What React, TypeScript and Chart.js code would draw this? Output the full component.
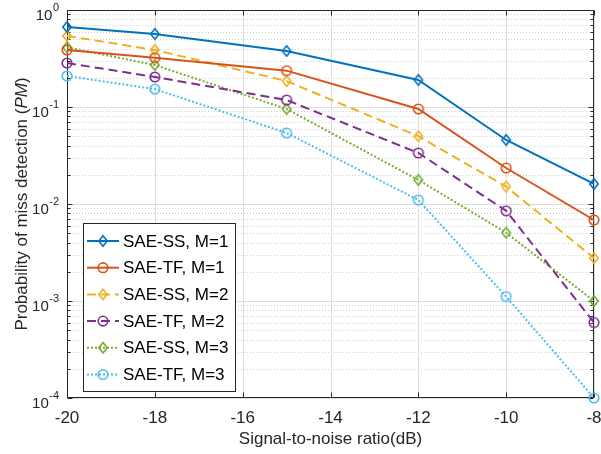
import React, { useEffect, useRef } from "react";
import { Chart, registerables } from "chart.js";

Chart.register(...registerables);

// ---- data ----
const snr = [-20, -18, -15, -12, -10, -8];
const ssM1 = [0.668, 0.566, 0.378, 0.19, 0.0457, 0.0161];
const tfM1 = [0.387, 0.322, 0.237, 0.0955, 0.0235, 0.00684];
const ssM2 = [0.54, 0.387, 0.185, 0.05, 0.0151, 0.00277];
const tfM2 = [0.284, 0.204, 0.118, 0.0336, 0.0085, 0.0006];
const ssM3 = [0.412, 0.271, 0.0955, 0.0177, 0.00506, 0.001];
const tfM3 = [0.209, 0.153, 0.054, 0.011, 0.00111, 0.0001];
const seriesNames = [
  "SAE-SS, M=1",
  "SAE-TF, M=1",
  "SAE-SS, M=2",
  "SAE-TF, M=2",
  "SAE-SS, M=3",
  "SAE-TF, M=3",
];
const xTicks = [-20, -18, -16, -14, -12, -10, -8];
const yDecades = [-4, -3, -2, -1, 0];
const xTitle = "Signal-to-noise ratio(dB)";
const yTitlePre = "Probability of miss detection (";
const yTitleIt = "PM";
const yTitlePost = ")";

// ---- styles ----
const colors = ["#0072BD", "#D95319", "#EDB120", "#7E2F8E", "#77AC30", "#4DBEEE"];
const markers = ["diamond", "circle", "diamond", "circle", "diamond", "circle"];
const dashes: number[][] = [[], [], [9, 5], [9, 5], [2, 2], [2, 2]];
const FONT = '"Liberation Sans", Arial, Helvetica, sans-serif';
const AXIS = "#262626";
const FS = 17;

function traceMarker(ctx: CanvasRenderingContext2D, style: string, x: number, y: number) {
  ctx.beginPath();
  if (style === "circle") {
    ctx.arc(x, y, 4.8, 0, Math.PI * 2);
  } else {
    ctx.moveTo(x, y - 5.2);
    ctx.lineTo(x + 4.2, y);
    ctx.lineTo(x, y + 5.2);
    ctx.lineTo(x - 4.2, y);
    ctx.closePath();
  }
}

function drawMarker(ctx: CanvasRenderingContext2D, style: string, x: number, y: number, color: string) {
  ctx.save();
  ctx.setLineDash([]);
  ctx.strokeStyle = color;
  ctx.lineWidth = 1.6;
  traceMarker(ctx, style, x, y);
  ctx.stroke();
  ctx.restore();
}

function markerImage(style: string, color: string): HTMLCanvasElement {
  const c = document.createElement("canvas");
  c.width = 14;
  c.height = 14;
  const g = c.getContext("2d")!;
  drawMarker(g, style, 7, 7, color);
  return c;
}

const matlabPlugin = {
  id: "matlabStyle",
  beforeDatasetsDraw(chart: any) {
    const { ctx, chartArea: a, scales } = chart;
    const xs = scales.x;
    const ys = scales.y;
    ctx.save();
    ctx.lineWidth = 1;
    // minor grid
    ctx.strokeStyle = "#cfcfcf";
    ctx.setLineDash([1, 2]);
    for (let e = -4; e < 0; e++) {
      for (let k = 2; k <= 9; k++) {
        const py = Math.round(ys.getPixelForValue(k * Math.pow(10, e))) + 0.5;
        ctx.beginPath();
        ctx.moveTo(a.left, py);
        ctx.lineTo(a.right, py);
        ctx.stroke();
      }
    }
    ctx.setLineDash([]);
    // major grid
    ctx.strokeStyle = "#dedede";
    xTicks.forEach((t) => {
      const px = Math.round(xs.getPixelForValue(t)) + 0.5;
      ctx.beginPath();
      ctx.moveTo(px, a.top);
      ctx.lineTo(px, a.bottom);
      ctx.stroke();
    });
    yDecades.forEach((e) => {
      const py = Math.round(ys.getPixelForValue(Math.pow(10, e))) + 0.5;
      ctx.beginPath();
      ctx.moveTo(a.left, py);
      ctx.lineTo(a.right, py);
      ctx.stroke();
    });
    // box
    ctx.strokeStyle = AXIS;
    const L = Math.round(a.left) + 0.5;
    const R = Math.round(a.right) - 0.5;
    const T = Math.round(a.top) + 0.5;
    const B = Math.round(a.bottom) - 0.5;
    ctx.beginPath();
    ctx.moveTo(L, T);
    ctx.lineTo(R, T);
    ctx.lineTo(R, B);
    ctx.lineTo(L, B);
    ctx.closePath();
    ctx.stroke();
    // ticks
    ctx.beginPath();
    xTicks.forEach((t) => {
      const px = Math.round(xs.getPixelForValue(t)) + 0.5;
      ctx.moveTo(px, B);
      ctx.lineTo(px, B - 5);
      ctx.moveTo(px, T);
      ctx.lineTo(px, T + 5);
    });
    yDecades.forEach((e) => {
      const py = Math.round(ys.getPixelForValue(Math.pow(10, e))) + 0.5;
      ctx.moveTo(L, py);
      ctx.lineTo(L + 5, py);
      ctx.moveTo(R, py);
      ctx.lineTo(R - 5, py);
    });
    for (let e = -4; e < 0; e++) {
      for (let k = 2; k <= 9; k++) {
        const py = Math.round(ys.getPixelForValue(k * Math.pow(10, e))) + 0.5;
        ctx.moveTo(L, py);
        ctx.lineTo(L + 3, py);
        ctx.moveTo(R, py);
        ctx.lineTo(R - 3, py);
      }
    }
    ctx.stroke();
    ctx.restore();
  },
  afterDraw(chart: any) {
    const { ctx, chartArea: a, scales } = chart;
    const xs = scales.x;
    const ys = scales.y;
    ctx.save();
    ctx.fillStyle = AXIS;
    // x tick labels
    ctx.font = `${FS}px ${FONT}`;
    ctx.textAlign = "center";
    ctx.textBaseline = "alphabetic";
    xTicks.forEach((t) => {
      const px = xs.getPixelForValue(t);
      ctx.fillText(String(t), px, a.bottom + 25);
    });
    // y tick labels 10^e
    yDecades.forEach((e) => {
      const py = ys.getPixelForValue(Math.pow(10, e));
      const sup = String(e);
      ctx.font = `11px ${FONT}`;
      const sw = ctx.measureText(sup).width;
      ctx.font = `15px ${FONT}`;
      const mw = ctx.measureText("10").width;
      const right = a.left - 8;
      ctx.textAlign = "left";
      ctx.fillText("10", right - sw - mw - 0.5, py + 10);
      ctx.font = `11px ${FONT}`;
      ctx.fillText(sup, right - sw, py + 1);
    });
    // x title
    ctx.font = `${FS}px ${FONT}`;
    ctx.textAlign = "center";
    ctx.fillText(xTitle, (a.left + a.right) / 2, a.bottom + 46);
    // y title (rotated)
    ctx.save();
    ctx.translate(27, (a.top + a.bottom) / 2);
    ctx.rotate(-Math.PI / 2);
    ctx.textAlign = "left";
    ctx.font = `${FS}px ${FONT}`;
    const w1 = ctx.measureText(yTitlePre).width;
    const w3 = ctx.measureText(yTitlePost).width;
    ctx.font = `italic ${FS}px ${FONT}`;
    const w2 = ctx.measureText(yTitleIt).width;
    let cx = -(w1 + w2 + w3) / 2;
    ctx.font = `${FS}px ${FONT}`;
    ctx.fillText(yTitlePre, cx, 0);
    cx += w1;
    ctx.font = `italic ${FS}px ${FONT}`;
    ctx.fillText(yTitleIt, cx, 0);
    cx += w2;
    ctx.font = `${FS}px ${FONT}`;
    ctx.fillText(yTitlePost, cx, 0);
    ctx.restore();

    // legend
    const lx = 83.5, ly = 223.5, lw = 152, lh = 168;
    ctx.fillStyle = "#ffffff";
    ctx.fillRect(lx, ly, lw, lh);
    ctx.strokeStyle = AXIS;
    ctx.lineWidth = 1;
    ctx.strokeRect(lx, ly, lw, lh);
    const rowH = 26.7;
    seriesNames.forEach((name, i) => {
      const cy = 241 + i * rowH;
      ctx.save();
      ctx.strokeStyle = colors[i];
      ctx.lineWidth = 2;
      ctx.setLineDash(dashes[i]);
      ctx.beginPath();
      ctx.moveTo(87, cy);
      ctx.lineTo(119, cy);
      ctx.stroke();
      ctx.restore();
      drawMarker(ctx, markers[i], 103, cy, colors[i]);
      ctx.fillStyle = "#000000";
      ctx.font = `${FS}px ${FONT}`;
      ctx.textAlign = "left";
      ctx.textBaseline = "middle";
      ctx.fillText(name, 123, cy + 1);
      ctx.textBaseline = "alphabetic";
    });
    ctx.restore();
  },
};

const seriesValues = [ssM1, tfM1, ssM2, tfM2, ssM3, tfM3];

export default function App() {
  const ref = useRef<HTMLCanvasElement | null>(null);
  useEffect(() => {
    if (!ref.current) return;
    const datasets = seriesValues.map((vals, i) => ({
      label: seriesNames[i],
      data: snr.map((x, j) => ({ x, y: vals[j] })),
      borderColor: colors[i],
      backgroundColor: colors[i],
      borderWidth: 2,
      borderDash: dashes[i],
      pointStyle: markerImage(markers[i], colors[i]) as any,
      pointRadius: 5,
      tension: 0,
      fill: false,
      clip: false as any,
    }));
    const chart = new Chart(ref.current, {
      type: "line",
      data: { datasets },
      options: {
        animation: false,
        responsive: false,
        devicePixelRatio: 1,
        layout: { padding: { left: 67, right: 3, top: 10, bottom: 56 } },
        plugins: { legend: { display: false }, tooltip: { enabled: false } },
        scales: {
          x: { type: "linear", min: -20, max: -8, display: false },
          y: { type: "logarithmic", min: 0.0001, max: 1, display: false },
        },
      },
      plugins: [matlabPlugin],
    });
    return () => chart.destroy();
  }, []);
  return (
    <div style={{ position: "fixed", left: 0, top: 0, width: 601, height: 454, background: "#fff" }}>
      <canvas ref={ref} width={601} height={454} style={{ width: 601, height: 454, display: "block" }} />
    </div>
  );
}
